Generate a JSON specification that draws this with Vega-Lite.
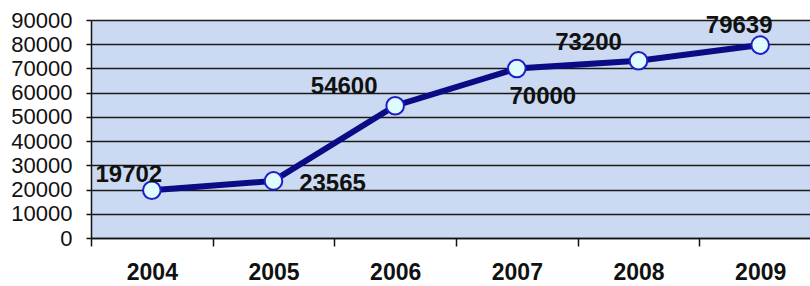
{
  "$schema": "https://vega.github.io/schema/vega-lite/v6.json",
  "autosize": "none",
  "width": 719,
  "height": 218,
  "padding": {"left": 91, "top": 20, "right": 0, "bottom": 48},
  "background": "white",
  "config": {
    "view": {"fill": "#cbdaf2", "stroke": null},
    "font": "Liberation Sans"
  },
  "data": {
    "values": [
      {"year": "2004", "value": 19702},
      {"year": "2005", "value": 23565},
      {"year": "2006", "value": 54600},
      {"year": "2007", "value": 70000},
      {"year": "2008", "value": 73200},
      {"year": "2009", "value": 79639}
    ]
  },
  "encoding": {
    "x": {
      "field": "year", "type": "nominal", "sort": null,
      "scale": {"type": "band", "paddingInner": 0, "paddingOuter": 0, "range": [0, 730]},
      "axis": {
        "title": null, "labelAngle": 0, "tickBand": "extent",
        "labelFont": "Liberation Sans", "labelFontSize": 23, "labelFontWeight": "bold", "labelColor": "#111111",
        "tickSize": 8, "labelPadding": 15, "tickColor": "#111111", "tickWidth": 1.5,
        "domainColor": "#111111", "domainWidth": 1.5, "grid": false
      }
    },
    "y": {
      "field": "value", "type": "quantitative",
      "scale": {"domain": [0, 90000], "nice": false},
      "axis": {
        "title": null, "values": [0, 10000, 20000, 30000, 40000, 50000, 60000, 70000, 80000, 90000],
        "format": "d", "labelFont": "Liberation Sans", "labelFontSize": 22, "labelColor": "#111111",
        "tickSize": 5, "labelPadding": 14, "tickColor": "#111111", "tickWidth": 1.5,
        "domainColor": "#111111", "domainWidth": 1.5,
        "grid": true, "gridColor": "#1a1a1a", "gridWidth": 1.5
      }
    }
  },
  "layer": [
    {"mark": {"type": "line", "color": "#0b0b85", "strokeWidth": 6}},
    {"mark": {"type": "point", "filled": true, "fill": "#defbff", "stroke": "#1e1ec8", "strokeWidth": 2, "size": 310, "opacity": 1}},
    {
      "transform": [{"filter": "datum.year == '2004'"}],
      "mark": {"type": "text", "font": "Liberation Sans", "fontWeight": "bold", "fontSize": 24, "color": "#111111", "baseline": "middle", "align": "center", "dx": -23, "dy": -15},
      "encoding": {"text": {"field": "value", "type": "quantitative", "format": "d"}}
    },
    {
      "transform": [{"filter": "datum.year == '2005'"}],
      "mark": {"type": "text", "font": "Liberation Sans", "fontWeight": "bold", "fontSize": 24, "color": "#111111", "baseline": "middle", "align": "center", "dx": 59, "dy": 3},
      "encoding": {"text": {"field": "value", "type": "quantitative", "format": "d"}}
    },
    {
      "transform": [{"filter": "datum.year == '2006'"}],
      "mark": {"type": "text", "font": "Liberation Sans", "fontWeight": "bold", "fontSize": 24, "color": "#111111", "baseline": "middle", "align": "center", "dx": -51, "dy": -19},
      "encoding": {"text": {"field": "value", "type": "quantitative", "format": "d"}}
    },
    {
      "transform": [{"filter": "datum.year == '2007'"}],
      "mark": {"type": "text", "font": "Liberation Sans", "fontWeight": "bold", "fontSize": 24, "color": "#111111", "baseline": "middle", "align": "center", "dx": 26, "dy": 29},
      "encoding": {"text": {"field": "value", "type": "quantitative", "format": "d"}}
    },
    {
      "transform": [{"filter": "datum.year == '2008'"}],
      "mark": {"type": "text", "font": "Liberation Sans", "fontWeight": "bold", "fontSize": 24, "color": "#111111", "baseline": "middle", "align": "center", "dx": -50, "dy": -18},
      "encoding": {"text": {"field": "value", "type": "quantitative", "format": "d"}}
    },
    {
      "transform": [{"filter": "datum.year == '2009'"}],
      "mark": {"type": "text", "font": "Liberation Sans", "fontWeight": "bold", "fontSize": 24, "color": "#111111", "baseline": "middle", "align": "center", "dx": -21, "dy": -19},
      "encoding": {"text": {"field": "value", "type": "quantitative", "format": "d"}}
    }
  ]
}
